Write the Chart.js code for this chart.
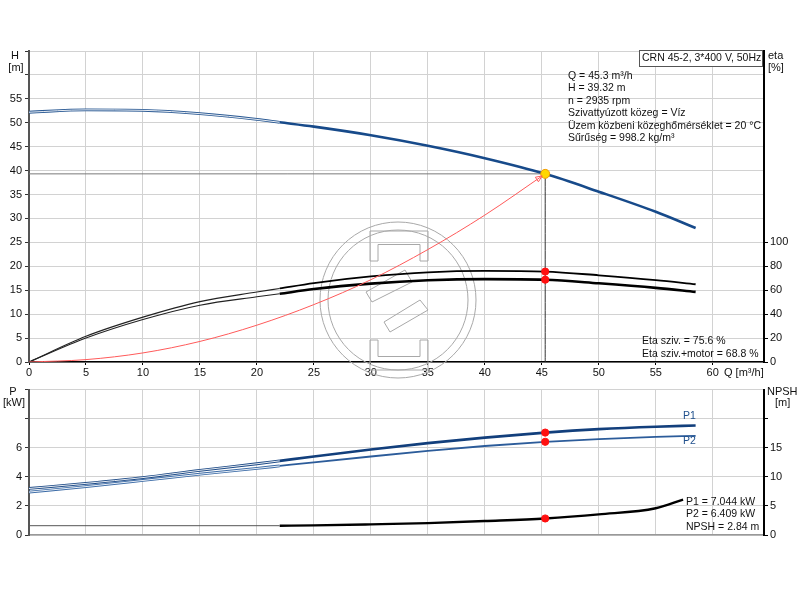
<!DOCTYPE html>
<html><head><meta charset="utf-8">
<script src="https://cdn.jsdelivr.net/npm/chart.js@4/dist/chart.umd.min.js"></script>
<style>
html,body{margin:0;padding:0;background:#fff;}
#wrap{position:relative;width:800px;height:600px;overflow:hidden;}
#c1{position:absolute;left:0;top:0;width:800px;height:384px;}
#c2{position:absolute;left:0;top:380px;width:800px;height:220px;}
</style></head><body>
<div id="wrap"><canvas id="c1" width="800" height="384"></canvas><canvas id="c2" width="800" height="220"></canvas></div>
<script>
// ---- data ----
const qCurve   = [0, 5, 10, 15, 20, 22, 25, 30, 35, 40, 45.3, 50, 55, 58.5];
const headH    = [52.2, 52.7, 52.6, 51.9, 50.7, 50.1, 49.2, 47.4, 45.2, 42.6, 39.32, 35.6, 31.4, 28.0];
const etaPump  = [0, 21.5, 37.5, 50.5, 58.5, 61.5, 66, 71.5, 75, 76.2, 75.6, 72.5, 68.5, 65];
const etaTotal = [0, 20, 35.5, 47.5, 54.5, 57, 61, 65.5, 68.3, 69.3, 68.8, 65.8, 62, 58.6];
const powerP1  = [3.2, 3.55, 3.95, 4.45, 4.9, 5.1, 5.4, 5.88, 6.32, 6.7, 7.044, 7.28, 7.45, 7.53];
const powerP2  = [2.95, 3.33, 3.75, 4.18, 4.58, 4.75, 5.0, 5.4, 5.78, 6.12, 6.409, 6.6, 6.75, 6.82];
const qSystem  = [0, 5, 10, 15, 20, 25, 30, 35, 40, 45.3];
const hSystem  = [0, 0.5, 1.9, 4.3, 7.7, 12.0, 17.2, 23.5, 30.7, 39.32];
const qNpsh    = [0, 22, 25, 30, 35, 40, 45.3, 50, 55, 57.4];
const npshVals = [1.6, 1.6, 1.65, 1.83, 2.05, 2.4, 2.84, 3.55, 4.6, 6.1];
const dutyQ = 45.3, dutyH = 39.32, dutyEtaP = 75.6, dutyEtaT = 68.8, dutyP1 = 7.044, dutyP2 = 6.409, dutyNpsh = 2.84;
const thinLimitQ = 22;
const xTicks    = [0, 5, 10, 15, 20, 25, 30, 35, 40, 45, 50, 55, 60];
const hTicks    = [0, 5, 10, 15, 20, 25, 30, 35, 40, 45, 50, 55];
const etaTicks  = [0, 20, 40, 60, 80, 100];
const pTicks    = [0, 2, 4, 6];
const npshTicks = [0, 5, 10, 15];
const infoLines = ['Q = 45.3 m³/h', 'H = 39.32 m', 'n = 2935 rpm', 'Szivattyúzott közeg = Víz', 'Üzem közbeni közeghőmérséklet = 20 °C', 'Sűrűség = 998.2 kg/m³'];
const titleText = 'CRN 45-2, 3*400 V, 50Hz';
const etaLines  = ['Eta sziv. = 75.6 %', 'Eta sziv.+motor = 68.8 %'];
const powerLines = ['P1 = 7.044 kW', 'P2 = 6.409 kW', 'NPSH = 2.84 m'];

// ---- helpers ----
const FONT = '"Liberation Sans", Arial, sans-serif';
Chart.defaults.font.family = FONT;
Chart.defaults.font.size = 11;
Chart.defaults.color = '#111';
function pts(qs, vs){ return qs.map((q,i)=>({x:q, y:vs[i]})); }
function part(qs, vs, lo, hi){ return pts(qs, vs).filter(p=>p.x>=lo && p.x<=hi); }
function line(data, color, width, yAxisID, order){
  return {type:'line', data, borderColor:color, borderWidth:width, pointRadius:0, fill:false,
          cubicInterpolationMode:'monotone', yAxisID, order: order||10};
}
function hollow(qs, vs, color, yAxisID){
  const d = part(qs, vs, 0, thinLimitQ);
  return [line(d, color, 2.8, yAxisID, 12), line(d, '#ffffff', 0.9, yAxisID, 11)];
}
function dot(x, y, yAxisID, fill, border, r){
  return {type:'scatter', data:[{x, y}], yAxisID, pointRadius:r||3.6, pointBackgroundColor:fill,
          pointBorderColor:border||fill, pointBorderWidth:1, showLine:false, order:1};
}
const GRID = '#d2d2d2';
const qMax = 64.5;
const TXT = '10.5px ' + FONT;

// ---- top chart ----
const watermark = {
  id:'wm',
  beforeDatasetsDraw(chart){
    const c = chart.ctx; c.save();
    c.strokeStyle = '#a8a8a8'; c.lineWidth = 1;
    const cx = 398, cy = 300;
    [78, 70].forEach(r=>{ c.beginPath(); c.arc(cx, cy, r, 0, Math.PI*2); c.stroke(); });
    const br = (y0, h, flip)=>{
      c.beginPath();
      const s = flip ? -1 : 1;
      c.moveTo(370, y0); c.lineTo(428, y0); c.lineTo(428, y0 + s*h); c.lineTo(420, y0 + s*h);
      c.lineTo(420, y0 + s*h*0.45); c.lineTo(378, y0 + s*h*0.45); c.lineTo(378, y0 + s*h); c.lineTo(370, y0 + s*h); c.closePath(); c.stroke();
    };
    br(231, 30, false); br(370, 30, true);
    c.beginPath();
    c.moveTo(405, 270); c.lineTo(412, 282); c.lineTo(372, 302); c.lineTo(366, 292); c.closePath(); c.stroke();
    c.beginPath();
    c.moveTo(420, 300); c.lineTo(428, 310); c.lineTo(390, 332); c.lineTo(384, 322); c.closePath(); c.stroke();
    c.restore();
  }
};
const topText = {
  id:'topText',
  afterDraw(chart){
    const c = chart.ctx; c.save();
    c.font = '11px ' + FONT; c.fillStyle = '#111'; c.textBaseline = 'middle';
    c.textAlign = 'center';
    c.fillText('H', 15, 56); c.fillText('[m]', 16, 68);
    c.textAlign = 'left';
    c.fillText('eta', 768, 56); c.fillText('[%]', 768, 68);
    c.fillText('Q [m³/h]', 724, 373);
    c.font = TXT;
    c.fillStyle = '#fff'; c.fillRect(639, 51, 123, 15);
    c.strokeStyle = '#555'; c.lineWidth = 1; c.strokeRect(639.5, 50.5, 123, 16);
    c.fillStyle = '#111';
    c.fillText(titleText, 642, 58.5);
    infoLines.forEach((t,i)=>c.fillText(t, 568, 76 + i*12.5));
    etaLines.forEach((t,i)=>c.fillText(t, 642, 341 + i*13));
    const xs = chart.scales.x, ys = chart.scales.y;
    const n = qSystem.length;
    const ax = xs.getPixelForValue(qSystem[n-1]) - 3, ay = ys.getPixelForValue(hSystem[n-1]) + 2;
    const bx = xs.getPixelForValue(qSystem[n-2]), by = ys.getPixelForValue(hSystem[n-2]);
    const ang = Math.atan2(ay-by, ax-bx);
    c.strokeStyle = '#ff5a5a'; c.lineWidth = 1;
    c.beginPath();
    c.moveTo(ax, ay);
    c.lineTo(ax - 7*Math.cos(ang-0.4), ay - 7*Math.sin(ang-0.4));
    c.lineTo(ax - 7*Math.cos(ang+0.4), ay - 7*Math.sin(ang+0.4));
    c.closePath(); c.stroke();
    c.restore();
  }
};

new Chart(document.getElementById('c1'), {
  data:{datasets:[
    line([{x:0,y:dutyH},{x:dutyQ,y:dutyH}], '#7a7a7a', 1, 'y', 20),
    line([{x:dutyQ,y:0},{x:dutyQ,y:dutyH}], '#333333', 1, 'y', 20),
    ...hollow(qCurve, headH, '#2b5a94', 'y'),
    line(part(qCurve, headH, thinLimitQ, 99), '#174a8a', 2.6, 'y', 9),
    line(part(qCurve, etaPump, 0, thinLimitQ), '#222', 1.1, 'yEta', 9),
    line(part(qCurve, etaTotal, 0, thinLimitQ), '#222', 1.1, 'yEta', 9),
    line(part(qCurve, etaPump, thinLimitQ, 99), '#000', 1.8, 'yEta', 9),
    line(part(qCurve, etaTotal, thinLimitQ, 99), '#000', 2.6, 'yEta', 9),
    line(pts(qSystem, hSystem), '#ff5a5a', 1, 'y', 8),
    dot(dutyQ, dutyEtaP, 'yEta', '#ff1010'),
    dot(dutyQ, dutyEtaT, 'yEta', '#ff1010'),
    dot(dutyQ, dutyH, 'y', '#ffd700', '#f29b00', 4.5)
  ]},
  options:{
    responsive:false, animation:false, events:[],
    layout:{padding:{top:51, left:0, right:0, bottom:0}},
    plugins:{legend:{display:false}, tooltip:{enabled:false}},
    scales:{
      x:{type:'linear', min:0, max:qMax, position:'bottom',
         afterBuildTicks:s=>{s.ticks = xTicks.map(v=>({value:v}));},
         ticks:{autoSkip:false, maxRotation:0, padding:1, color:'#111'},
         grid:{color:GRID, tickLength:3, tickColor:'#000'},
         border:{color:'#000', width:1.5},
         afterFit:s=>{s.height = 22;}},
      y:{type:'linear', min:0, max:65, position:'left',
         afterBuildTicks:s=>{s.ticks = [...hTicks, 60, 65].map(v=>({value:v}));},
         ticks:{autoSkip:false, padding:3, color:'#111', callback:v=> hTicks.includes(v) ? String(v) : ''},
         grid:{color:GRID, tickLength:4, tickColor:'#333'},
         border:{color:'#555', width:2},
         afterFit:s=>{s.width = 29;}},
      yEta:{type:'linear', min:0, max:260, position:'right',
         afterBuildTicks:s=>{s.ticks = etaTicks.map(v=>({value:v}));},
         ticks:{autoSkip:false, padding:2, color:'#111'},
         grid:{drawOnChartArea:false, tickLength:4, tickColor:'#000'},
         border:{color:'#000', width:2},
         afterFit:s=>{s.width = 36;}}
    }
  },
  plugins:[watermark, topText]
});

// ---- bottom chart ----
const botText = {
  id:'botText',
  afterDraw(chart){
    const c = chart.ctx; c.save();
    c.font = '11px ' + FONT; c.fillStyle = '#111'; c.textBaseline = 'middle';
    c.textAlign = 'center';
    c.fillText('P', 13, 12); c.fillText('[kW]', 14, 23);
    c.textAlign = 'left';
    c.fillText('NPSH', 767, 12); c.fillText('[m]', 775, 23);
    c.font = TXT;
    c.fillStyle = '#1f4f8c';
    c.fillText('P1', 683, 36); c.fillText('P2', 683, 61);
    c.fillStyle = '#111';
    powerLines.forEach((t,i)=>c.fillText(t, 686, 122 + i*12.5));
    c.restore();
  }
};

new Chart(document.getElementById('c2'), {
  data:{datasets:[
    ...hollow(qCurve, powerP1, '#1d4a86', 'yP'),
    ...hollow(qCurve, powerP2, '#3a6aa6', 'yP'),
    line(part(qCurve, powerP1, thinLimitQ, 99), '#123f7c', 2.6, 'yP', 9),
    line(part(qCurve, powerP2, thinLimitQ, 99), '#2c5c9a', 1.8, 'yP', 9),
    line(part(qNpsh, npshVals, 0, thinLimitQ), '#555', 1, 'yN', 9),
    line(part(qNpsh, npshVals, thinLimitQ, 99), '#000', 2.4, 'yN', 9),
    dot(dutyQ, dutyP1, 'yP', '#ff1010'),
    dot(dutyQ, dutyP2, 'yP', '#ff1010'),
    dot(dutyQ, dutyNpsh, 'yN', '#ff1010')
  ]},
  options:{
    responsive:false, animation:false, events:[],
    layout:{padding:{top:5, left:0, right:0, bottom:0}},
    plugins:{legend:{display:false}, tooltip:{enabled:false}},
    scales:{
      x:{type:'linear', min:0, max:qMax, position:'bottom',
         afterBuildTicks:s=>{s.ticks = xTicks.map(v=>({value:v}));},
         ticks:{display:false},
         grid:{color:GRID, drawTicks:false},
         border:{color:'#999', width:1.5},
         afterFit:s=>{s.height = 65;}},
      yP:{type:'linear', min:0, max:10, position:'left',
         afterBuildTicks:s=>{s.ticks = [...pTicks, 8, 10].map(v=>({value:v}));},
         ticks:{autoSkip:false, padding:3, color:'#111', callback:v=> pTicks.includes(v) ? String(v) : ''},
         grid:{color:GRID, tickLength:4, tickColor:'#333'},
         border:{color:'#555', width:2},
         afterFit:s=>{s.width = 29;}},
      yN:{type:'linear', min:0, max:25, position:'right',
         afterBuildTicks:s=>{s.ticks = [...npshTicks, 20].map(v=>({value:v}));},
         ticks:{autoSkip:false, padding:2, color:'#111', callback:v=> npshTicks.includes(v) ? String(v) : ''},
         grid:{drawOnChartArea:false, tickLength:4, tickColor:'#000'},
         border:{color:'#000', width:2},
         afterFit:s=>{s.width = 36;}}
    }
  },
  plugins:[botText]
});
</script>
</body></html>
